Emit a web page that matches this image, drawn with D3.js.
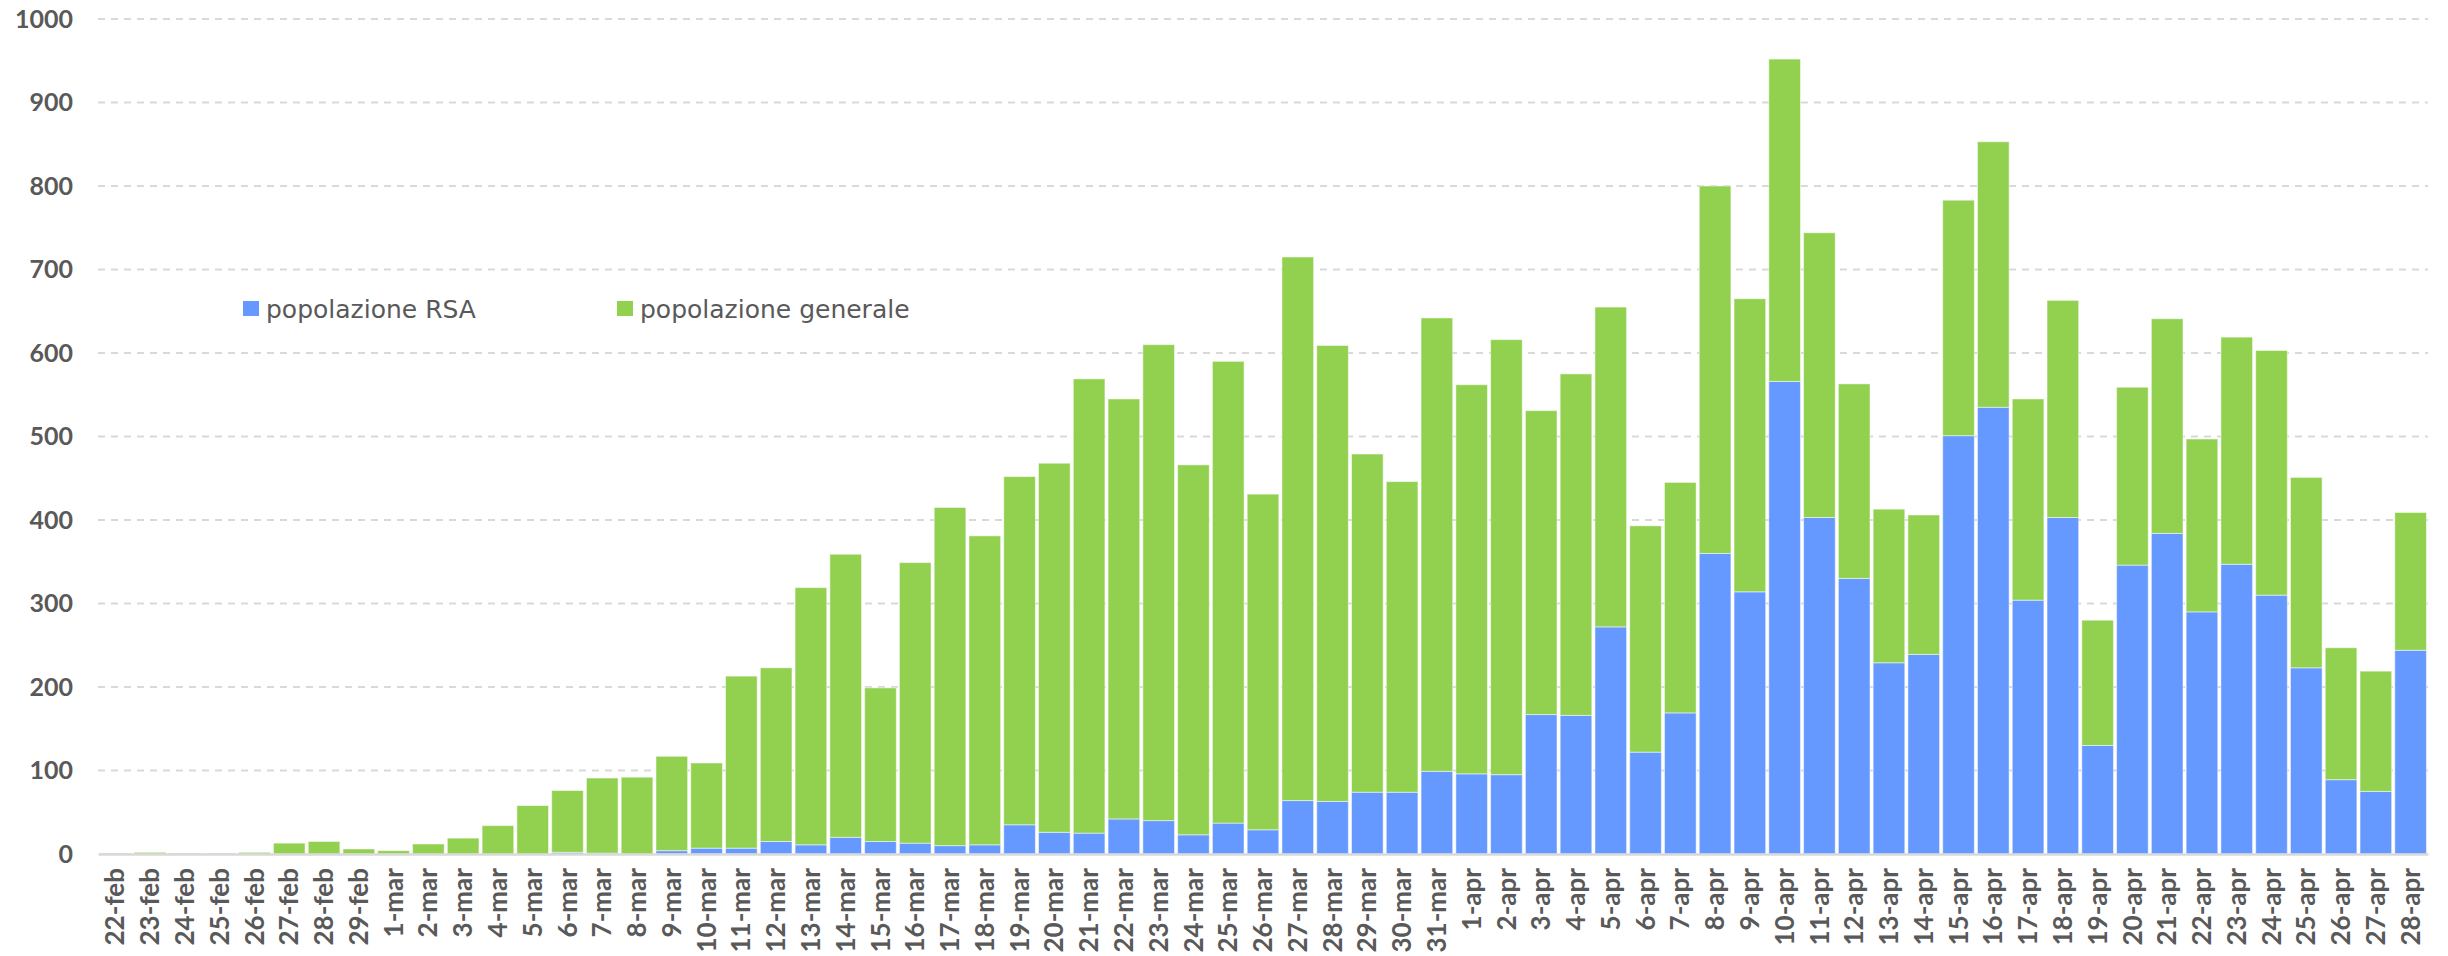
<!DOCTYPE html>
<html>
<head>
<meta charset="utf-8">
<script src="https://cdn.jsdelivr.net/npm/d3@7"></script>
<style>
  body { margin: 0; background: #fff; }
  svg text { font-family: Lato, "DejaVu Sans", sans-serif; }
</style>
</head>
<body>
<svg id="chart" width="2448" height="956"></svg>
<script>
// giorni
var days = ["22-feb","23-feb","24-feb","25-feb","26-feb","27-feb","28-feb","29-feb",
  "1-mar","2-mar","3-mar","4-mar","5-mar","6-mar","7-mar","8-mar","9-mar","10-mar",
  "11-mar","12-mar","13-mar","14-mar","15-mar","16-mar","17-mar","18-mar","19-mar","20-mar",
  "21-mar","22-mar","23-mar","24-mar","25-mar","26-mar","27-mar","28-mar","29-mar","30-mar","31-mar",
  "1-apr","2-apr","3-apr","4-apr","5-apr","6-apr","7-apr","8-apr","9-apr","10-apr",
  "11-apr","12-apr","13-apr","14-apr","15-apr","16-apr","17-apr","18-apr","19-apr","20-apr",
  "21-apr","22-apr","23-apr","24-apr","25-apr","26-apr","27-apr","28-apr"];

// popolazione RSA
var rsa = [0,0,0,0,0,0,0,0,
  0,0,0,0,0,2,1,0,4,7,
  7,15,11,20,15,13,10,11,35,26,
  25,42,40,23,37,29,64,63,74,74,99,
  96,95,167,166,272,122,169,360,314,566,
  403,330,229,239,501,535,304,403,130,346,
  384,290,347,310,223,89,75,244];

// totale (RSA + generale)
var total = [1,2,1,1,2,13,15,6,
  4,12,19,34,58,76,91,92,117,109,
  213,223,319,359,199,349,415,381,452,468,
  569,545,610,466,590,431,715,609,479,446,642,
  562,616,531,575,655,393,445,800,665,952,
  744,563,413,406,783,853,545,663,280,559,
  641,497,619,603,451,247,219,409];

var yTicks = [0,100,200,300,400,500,600,700,800,900,1000];
var seriesNames = ["popolazione RSA","popolazione generale"];
var seriesColors = ["#6699FF","#92D050"];

var svg = d3.select("#chart"),
    margin = {top: 19, right: 20, bottom: 102, left: 98},
    width = +svg.attr("width") - margin.left - margin.right,
    height = +svg.attr("height") - margin.top - margin.bottom,
    g = svg.append("g").attr("transform", "translate(" + margin.left + "," + margin.top + ")");

var rows = days.map(function(d, i) {
  return {day: d, rsa: rsa[i], gen: total[i] - rsa[i]};
});

var x = d3.scaleBand().domain(days).range([0, width]).paddingInner(0.09).paddingOuter(0.045);
var y = d3.scaleLinear().domain([0, 1000]).range([height, 0]);

// griglia
g.append("g").selectAll("line")
  .data(yTicks.filter(function(t) { return t > 0; }))
  .enter().append("line")
    .attr("x1", 0).attr("x2", width)
    .attr("y1", function(d) { return y(d); })
    .attr("y2", function(d) { return y(d); })
    .attr("stroke", "#d9d9d9")
    .attr("stroke-width", 2)
    .attr("stroke-dasharray", "7,6");

var stack = d3.stack().keys(["rsa", "gen"]);
var layers = stack(rows);

g.append("g").selectAll("g")
  .data(layers)
  .enter().append("g")
    .attr("fill", function(d, i) { return seriesColors[i]; })
  .selectAll("rect")
  .data(function(d) { return d; })
  .enter().append("rect")
    .attr("x", function(d) { return x(d.data.day); })
    .attr("y", function(d) { return y(d[1]); })
    .attr("width", x.bandwidth())
    .attr("height", function(d) { return y(d[0]) - y(d[1]); })
    .attr("stroke", "#ffffff")
    .attr("stroke-opacity", 0.5)
    .attr("stroke-width", 1);

// asse x
var xAxis = g.append("g")
    .attr("transform", "translate(0," + height + ")")
    .call(d3.axisBottom(x).tickSize(0).tickPadding(0));
xAxis.select(".domain").attr("stroke", "#d9d9d9").attr("stroke-width", 2.5);
xAxis.selectAll("text")
    .attr("transform", "rotate(-90)")
    .attr("x", -14)
    .attr("y", 0)
    .attr("dy", "0.35em")
    .attr("text-anchor", "end")
    .attr("fill", "#595959")
    .attr("font-size", 26)
    .attr("font-weight", "bold");

// asse y
var yAxis = g.append("g")
    .call(d3.axisLeft(y).tickValues(yTicks).tickFormat(d3.format("d")).tickSize(0).tickPadding(25));
yAxis.select(".domain").remove();
yAxis.selectAll("text")
    .attr("fill", "#595959")
    .attr("font-size", 25)
    .attr("font-weight", "bold");

// legenda
var legend = svg.append("g").attr("transform", "translate(243,301)");
var items = legend.selectAll("g")
  .data(seriesNames)
  .enter().append("g")
    .attr("transform", function(d, i) { return "translate(" + (i * 374) + ",0)"; });
items.append("rect")
    .attr("width", 16).attr("height", 15)
    .attr("fill", function(d, i) { return seriesColors[i]; });
items.append("text")
    .attr("x", 23).attr("y", 17)
    .attr("fill", "#595959")
    .style("font-family", "'DejaVu Sans', sans-serif")
    .style("font-size", "25px")
    .text(function(d) { return d; });
</script>
</body>
</html>
